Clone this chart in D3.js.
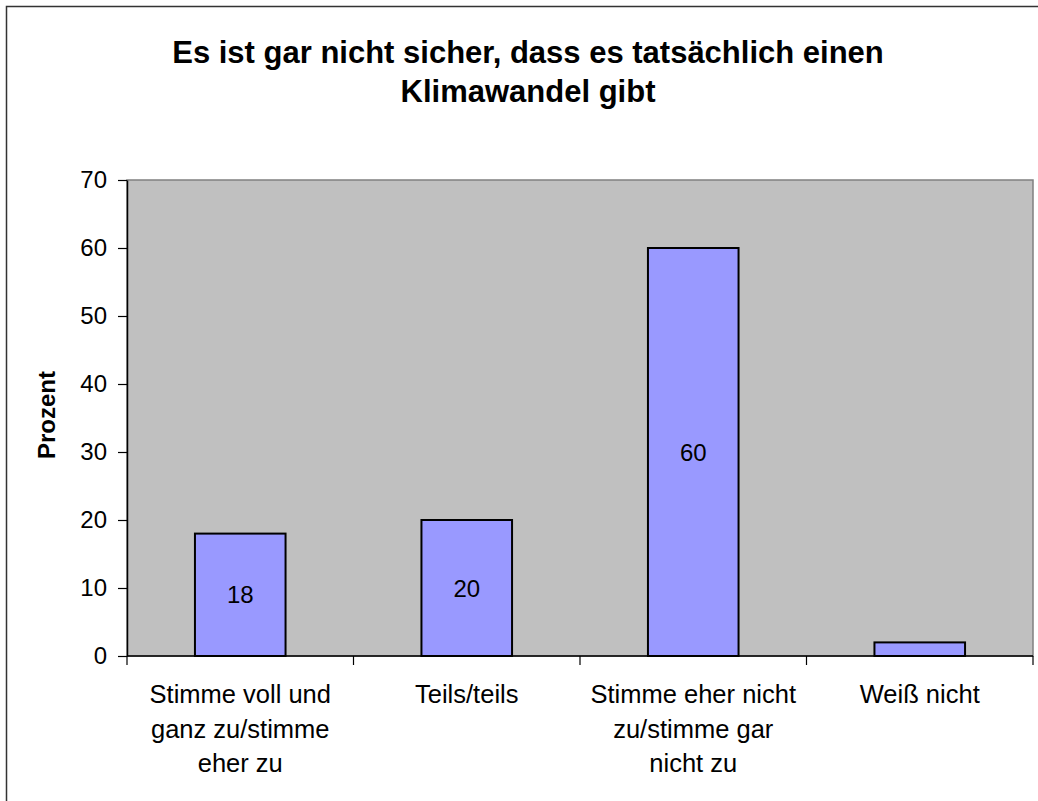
<!DOCTYPE html>
<html>
<head>
<meta charset="utf-8">
<script src="https://cdn.jsdelivr.net/npm/d3@7/dist/d3.min.js"></script>
<style>
  body { margin: 0; background: #fff; }
  svg { display: block; font-family: "Liberation Sans", Arial, sans-serif; }
</style>
</head>
<body>
<svg id="chart"></svg>
<script>
var categories = [
    ['Stimme voll und', 'ganz zu/stimme', 'eher zu'],
    ['Teils/teils'],
    ['Stimme eher nicht', 'zu/stimme gar', 'nicht zu'],
    ['Weiß nicht']
];
var values = [18, 20, 60, 2];
var showLabel = [true, true, true, false];
var yTicks = [0, 10, 20, 30, 40, 50, 60, 70];
var titleLines = ['Es ist gar nicht sicher, dass es tatsächlich einen', 'Klimawandel gibt'];

var width = 1038, height = 801;
var plotLeft = 127, plotRight = 1033, plotTop = 180, plotBottom = 656;

var svg = d3.select('#chart')
    .attr('width', width)
    .attr('height', height);

// outer frame (runs off the picture on right and bottom)
svg.append('rect')
    .attr('x', 6.5).attr('y', 6.5)
    .attr('width', 1100).attr('height', 900)
    .attr('fill', 'none')
    .attr('stroke', '#333')
    .attr('stroke-width', 1.5);

var xScale = d3.scaleBand()
    .domain(d3.range(values.length))
    .range([plotLeft, plotRight])
    .paddingInner(0.6)
    .paddingOuter(0.3);

var yScale = d3.scaleLinear()
    .domain([0, 70])
    .range([plotBottom, plotTop]);

// plot area
svg.append('rect')
    .attr('x', plotLeft).attr('y', plotTop)
    .attr('width', plotRight - plotLeft).attr('height', plotBottom - plotTop)
    .attr('fill', '#c0c0c0')
    .attr('stroke', '#808080')
    .attr('stroke-width', 1.5);

// title
svg.append('text')
    .attr('text-anchor', 'middle')
    .attr('font-size', 31)
    .attr('font-weight', 'bold')
    .selectAll('tspan')
    .data(titleLines)
    .enter()
    .append('tspan')
    .attr('x', 528)
    .attr('y', (d, i) => 63 + i * 39)
    .text(d => d);

// bars
svg.selectAll('.bar')
    .data(values)
    .enter()
    .append('rect')
    .classed('bar', true)
    .attr('x', (d, i) => xScale(i))
    .attr('y', d => yScale(d))
    .attr('width', xScale.bandwidth())
    .attr('height', d => yScale(0) - yScale(d))
    .attr('fill', '#9999ff')
    .attr('stroke', '#000')
    .attr('stroke-width', 2);

// value labels
svg.selectAll('.val')
    .data(values.map((v, i) => ({ v: v, i: i })).filter(d => showLabel[d.i]))
    .enter()
    .append('text')
    .attr('x', d => xScale(d.i) + xScale.bandwidth() / 2)
    .attr('y', d => (yScale(d.v) + yScale(0)) / 2)
    .attr('dy', '0.36em')
    .attr('text-anchor', 'middle')
    .attr('font-size', 24)
    .text(d => d.v);

// y axis
var yAxis = d3.axisLeft(yScale)
    .tickValues(yTicks)
    .tickSize(9)
    .tickSizeOuter(0)
    .tickPadding(11);

var gy = svg.append('g')
    .attr('transform', 'translate(' + plotLeft + ',0)')
    .call(yAxis);
gy.select('.domain').attr('stroke', '#000').attr('stroke-width', 1.5);
gy.selectAll('.tick line').attr('stroke', '#000').attr('stroke-width', 1.2);
gy.selectAll('.tick text')
    .attr('font-size', 24)
    .attr('font-family', '"Liberation Sans", Arial, sans-serif')
    .attr('fill', '#000');

// x axis line and category separator ticks
var step = (plotRight - plotLeft) / values.length;
var sepTicks = d3.range(values.length + 1).map(i => plotLeft + i * step);
svg.append('line')
    .attr('x1', plotLeft).attr('x2', plotRight)
    .attr('y1', plotBottom).attr('y2', plotBottom)
    .attr('stroke', '#000')
    .attr('stroke-width', 1.5);
svg.selectAll('.sep')
    .data(sepTicks)
    .enter()
    .append('line')
    .attr('x1', d => d).attr('x2', d => d)
    .attr('y1', plotBottom).attr('y2', plotBottom + 9)
    .attr('stroke', '#000')
    .attr('stroke-width', 1.2);

// category labels
svg.selectAll('.cat')
    .data(categories)
    .enter()
    .append('text')
    .attr('text-anchor', 'middle')
    .attr('font-size', 25.5)
    .each(function(d, i) {
        var cx = xScale(i) + xScale.bandwidth() / 2;
        d3.select(this).selectAll('tspan')
            .data(d)
            .enter()
            .append('tspan')
            .attr('x', cx)
            .attr('y', (t, j) => 703 + j * 34.5)
            .text(t => t);
    });

// y label
svg.append('text')
    .attr('transform', 'translate(55,' + ((plotTop + plotBottom) / 2 - 3) + ') rotate(-90)')
    .attr('text-anchor', 'middle')
    .attr('font-size', 24)
    .attr('font-weight', 'bold')
    .text('Prozent');
</script>
</body>
</html>
